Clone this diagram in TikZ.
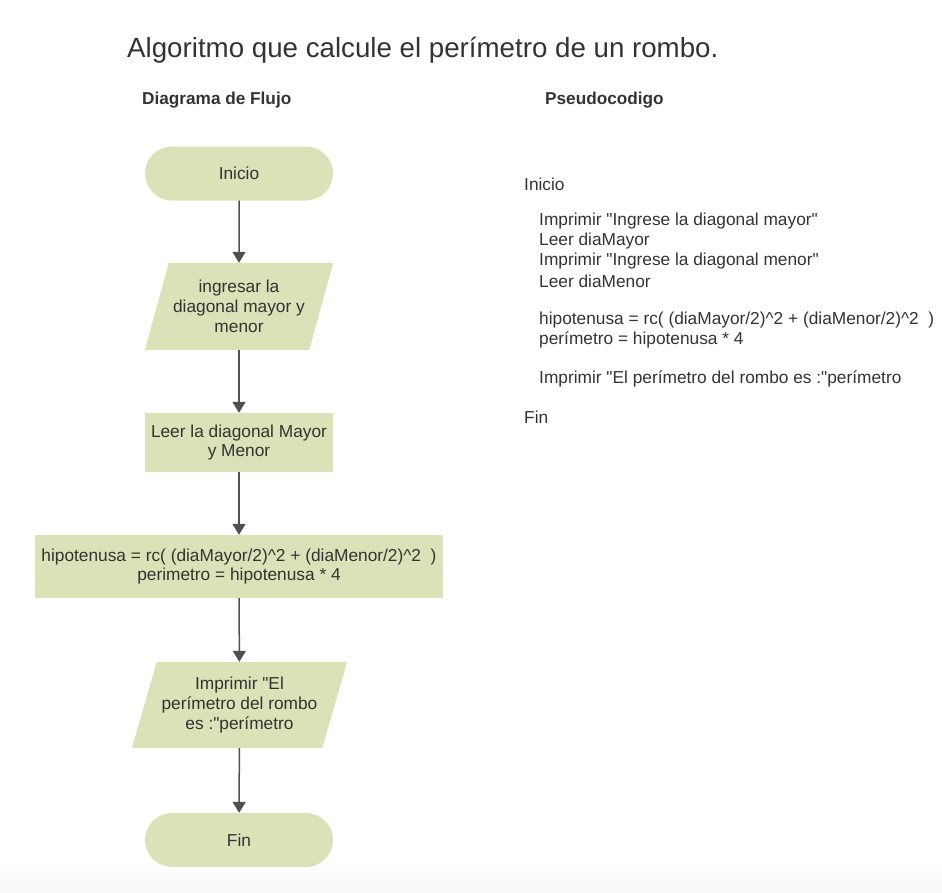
\documentclass[tikz,border=0pt]{standalone}
\usepackage{fontspec}
\setmainfont{Liberation Sans}
\usetikzlibrary{arrows.meta,shapes.misc}
\pgfdeclarelayer{bg}
\pgfsetlayers{bg,main}
\definecolor{boxfill}{HTML}{DCE2B7}
\definecolor{txt}{HTML}{333333}
\definecolor{arr}{HTML}{4F4F4F}
\newcommand\dq{\XeTeXglyph\XeTeXcharglyph34\relax}
\begin{document}
\begin{tikzpicture}[x=1pt,y=-1pt,
  every node/.style={text=txt,font=\fontsize{17.3}{19.8}\selectfont},
  term/.style={fill=boxfill,rounded rectangle,minimum width=188pt,minimum height=54pt,inner sep=0pt},
  procbox/.style={fill=boxfill,rectangle,inner sep=0pt,align=center},
  iotext/.style={rectangle,inner sep=0pt,align=center},
  flow/.style={draw=arr,line width=1.5pt,-{Triangle[width=13pt,length=11pt]}},
  pseudo/.style={anchor=west,inner sep=0pt},
  heading/.style={inner sep=0pt,font=\bfseries\fontsize{17.2}{20}\selectfont}]
\useasboundingbox (0,0) rectangle (942,892);
\shade[top color=white,bottom color=black!3] (0,862) rectangle (942,892);
% titles
\node[inner sep=0pt,anchor=base west,font=\fontsize{27.7}{32}\selectfont] (title) at (127,57) {Algoritmo que calcule el perímetro de un rombo.};
\node[heading,anchor=west] (h1) at (142,100) {Diagrama de Flujo};
\node[heading,anchor=west] (h2) at (545,100) {Pseudocodigo};
% flowchart
\node[term] (inicio) at (239,173.5) {Inicio};
\node[iotext,minimum width=188pt,minimum height=87pt] (in1) at (239,306.5) {ingresar la\\diagonal mayor y\\menor};
\node[procbox,minimum width=188pt,minimum height=59pt] (leer) at (239,442.5) {Leer la diagonal Mayor\\y Menor};
\node[procbox,minimum width=408pt,minimum height=63pt] (calc) at (239,566.5) {hipotenusa = rc( (diaMayor/2)\^{}2 + (diaMenor/2)\^{}2~~)\\perimetro = hipotenusa * 4};
\node[iotext,minimum width=215pt,minimum height=86pt] (out1) at (239.5,705) {Imprimir \dq El\\perímetro del rombo\\es :\dq perímetro};
\node[term] (fin) at (239,840) {Fin};
\begin{pgfonlayer}{bg}
\fill[boxfill] ([xshift=24pt]in1.north west) -- (in1.north east) -- ([xshift=-24pt]in1.south east) -- (in1.south west) -- cycle;
\fill[boxfill] ([xshift=25pt]out1.north west) -- (out1.north east) -- ([xshift=-25pt]out1.south east) -- (out1.south west) -- cycle;
\end{pgfonlayer}
\draw[flow] (inicio) -- (in1);
\draw[flow] (in1) -- (leer);
\draw[flow] (leer) -- (calc);
\draw[flow] (calc) -- (out1);
\draw[flow] (out1) -- (fin);
% pseudocode
\node[pseudo] (p1) at (524,184) {Inicio};
\node[pseudo] (p2) at (539,221) {Imprimir \dq Ingrese la diagonal mayor\dq};
\node[pseudo] (p3) at (539,241) {Leer diaMayor};
\node[pseudo] (p4) at (539,261) {Imprimir \dq Ingrese la diagonal menor\dq};
\node[pseudo] (p5) at (539,281) {Leer diaMenor};
\node[pseudo] (p6) at (539,320) {hipotenusa = rc( (diaMayor/2)\^{}2 + (diaMenor/2)\^{}2~~)};
\node[pseudo] (p7) at (539,340) {perímetro = hipotenusa * 4};
\node[pseudo] (p8) at (539,379) {Imprimir \dq El perímetro del rombo es :\dq perímetro};
\node[pseudo] (p9) at (524,417) {Fin};
\end{tikzpicture}
\end{document}
